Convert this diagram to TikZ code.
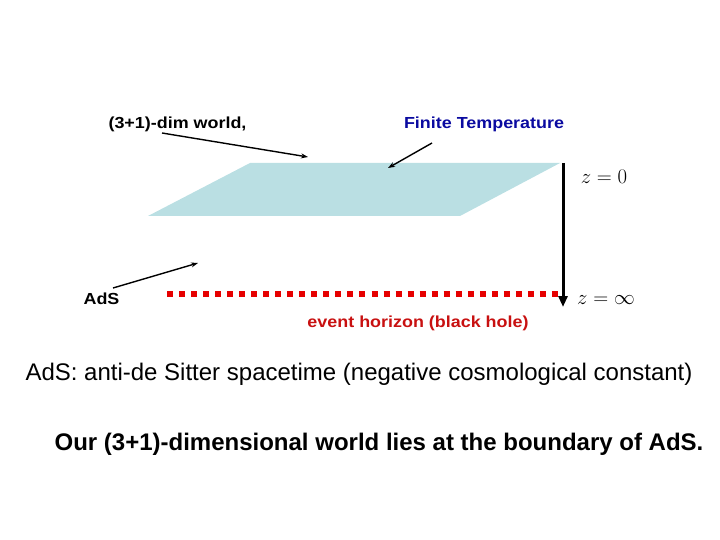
\documentclass[tikz,border=0pt]{standalone}
\usepackage{fontspec}
\setmainfont{Liberation Sans}
\newfontfamily\widesans[FakeStretch=1.12]{Liberation Sans}
\usetikzlibrary{arrows.meta}
\definecolor{planecol}{RGB}{186,223,227}
\definecolor{darkblue}{RGB}{10,10,160}
\definecolor{horizred}{RGB}{200,16,16}
\definecolor{dotred}{RGB}{230,0,0}
\tikzset{
  lbl/.style={font=\widesans\bfseries\fontsize{16}{18}\selectfont, inner sep=0pt},
  pointer/.style={line width=1.4pt, -{Stealth[length=7pt,width=5pt]}},
  mathlbl/.style={font=\fontsize{21}{24}\selectfont, inner sep=0pt},
}
\begin{document}
\begin{tikzpicture}[x=1pt,y=-1pt]
\useasboundingbox (0,0) rectangle (720,540);
% plane
\fill[planecol] (250,163) -- (560,163) -- (460,216) -- (148,216) -- cycle;
% event horizon
\draw[dotred, line width=6pt, dash pattern=on 6pt off 6.03pt] (167,294) -- (558,294);
% z axis
\coordinate (ztop) at (563,163);
\coordinate (zbot) at (563,307);
\draw[line width=3pt, -{Triangle[length=11pt,width=9pt]}] (ztop) -- (zbot);
% labels
\node[lbl] (world) at (177.5,124) {(3+1)-dim world,};
\node[lbl, text=darkblue] (temp) at (484,124) {Finite Temperature};
\node[lbl] (ads) at (101.5,299) {AdS};
\node[lbl, text=horizred] (horiz) at (418,323) {event horizon (black hole)};
\node[mathlbl] (z0) at (604,177) {$z=0$};
\node[mathlbl] (zinf) at (606,300) {$z=\infty$};
% pointers
\coordinate (w1) at (162,133);
\coordinate (w2) at (308,157);
\coordinate (t1) at (432,143);
\coordinate (t2) at (388,168);
\coordinate (a1) at (113,288);
\coordinate (a2) at (198,263);
\draw[pointer] (w1) -- (w2);
\draw[pointer] (t1) -- (t2);
\draw[pointer] (a1) -- (a2);
% bottom text
\node[inner sep=0pt, font=\fontsize{24}{28}\selectfont] (def) at (359,374) {AdS: anti-de Sitter spacetime (negative cosmological constant)};
\node[inner sep=0pt, font=\bfseries\fontsize{24}{28}\selectfont] (concl) at (379,444) {Our (3+1)-dimensional world lies at the boundary of AdS.};
\end{tikzpicture}
\end{document}
